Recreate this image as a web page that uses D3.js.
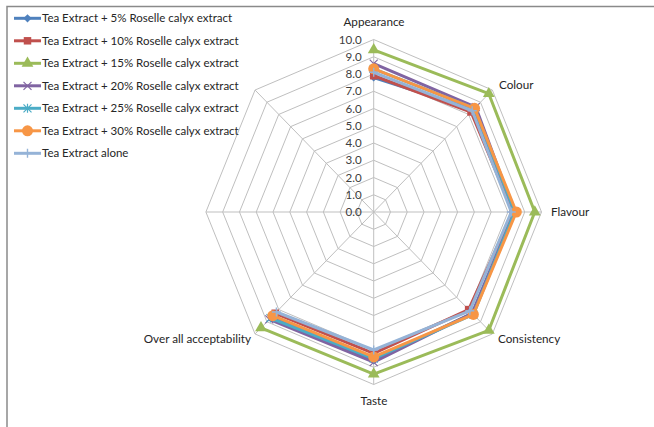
<!DOCTYPE html>
<html>
<head>
<meta charset="utf-8">
<script src="https://cdn.jsdelivr.net/npm/d3@7"></script>
<style>
  html, body { margin: 0; padding: 0; background: #fff; }
  svg { display: block; font-family: Lato, "Open Sans", sans-serif; }
</style>
</head>
<body>
<svg id="chart" width="654" height="427"></svg>
<script>
// Sensory attributes, clockwise from the top; the last two spokes carry no data
const categories = ["Appearance", "Colour", "Flavour", "Consistency", "Taste", "Over all acceptability", "", ""];

const seriesNames = [
  "Tea Extract + 5% Roselle calyx extract",
  "Tea Extract + 10% Roselle calyx extract",
  "Tea Extract + 15% Roselle calyx extract",
  "Tea Extract + 20% Roselle calyx extract",
  "Tea Extract + 25% Roselle calyx extract",
  "Tea Extract + 30% Roselle calyx extract",
  "Tea Extract alone"
];

// Mean scores per attribute (null = no value on that spoke)
const roselle5  = [7.8, 8.4, 8.4, 8.3, 8.6, 8.6, null, null];
const roselle10 = [7.9, 8.2, 8.3, 8.0, 8.2, 8.3, null, null];
const roselle15 = [9.4, 9.7, 9.6, 9.7, 9.4, 9.5, null, null];
const roselle20 = [8.6, 8.6, 8.4, 8.3, 8.7, 8.8, null, null];
const roselle25 = [8.3, 8.5, 8.4, 8.4, 8.5, 8.7, null, null];
const roselle30 = [8.3, 8.5, 8.5, 8.4, 8.4, 8.5, null, null];
const teaAlone  = [8.1, 8.3, 8.2, 8.1, 8.0, 8.2, null, null];

const tickValues = [0, 1, 2, 3, 4, 5, 6, 7, 8, 9, 10];
const tickLabels = ["0.0", "1.0", "2.0", "3.0", "4.0", "5.0", "6.0", "7.0", "8.0", "9.0", "10.0"];

const seriesValues = [roselle5, roselle10, roselle15, roselle20, roselle25, roselle30, teaAlone];
const colors = ["#4F81BD", "#C0504D", "#9BBB59", "#8064A2", "#4BACC6", "#F79646", "#95B3D7"];
const markers = ["diamond", "square", "triangle", "x", "asterisk", "circle", "plus"];

const svg = d3.select("#chart");
const cx = 373.7, cy = 212;

// Radial scales (plot area is slightly wider than tall)
const rX = d3.scaleLinear().domain([0, 10]).range([0, 167.8]);
const rY = d3.scaleLinear().domain([0, 10]).range([0, 172.5]);
const angle = d3.scalePoint().domain(d3.range(categories.length)).range([0, 2 * Math.PI * (categories.length - 1) / categories.length]);

const px = (i, v) => cx + rX(v) * Math.sin(angle(i));
const py = (i, v) => cy - rY(v) * Math.cos(angle(i));

// Chart frame
svg.append("path")
  .attr("d", "M7,427 V6.5 H654")
  .attr("fill", "none").attr("stroke", "#8a8a8a").attr("stroke-width", 1.5);

// Grid polygons
const grid = svg.append("g").attr("fill", "none").attr("stroke", "#BFBFBF").attr("stroke-width", 1);
tickValues.slice(1).forEach(t => {
  grid.append("polygon")
    .attr("points", categories.map((c, i) => [px(i, t), py(i, t)].join(",")).join(" "));
});
categories.forEach((c, i) => {
  grid.append("line")
    .attr("x1", cx).attr("y1", cy)
    .attr("x2", px(i, 10)).attr("y2", py(i, 10));
});

// Value axis labels along the top spoke
svg.append("g")
  .selectAll("text").data(tickValues).join("text")
  .attr("x", cx - 12)
  .attr("y", d => cy - rY(d))
  .attr("dy", "0.35em")
  .attr("text-anchor", "end")
  .attr("font-size", 11.6)
  .attr("fill", "#404040")
  .text((d, i) => tickLabels[i]);

// Category labels
const catPos = [
  { x: 374, y: 22, anchor: "middle" },
  { x: 499, y: 85, anchor: "start" },
  { x: 551, y: 212, anchor: "start" },
  { x: 498, y: 339, anchor: "start" },
  { x: 374, y: 401, anchor: "middle" },
  { x: 251, y: 339, anchor: "end" }
];
svg.append("g")
  .selectAll("text").data(categories.filter(c => c !== "")).join("text")
  .attr("x", (d, i) => catPos[i].x)
  .attr("y", (d, i) => catPos[i].y)
  .attr("dy", "0.35em")
  .attr("text-anchor", (d, i) => catPos[i].anchor)
  .attr("font-size", 11.7)
  .attr("fill", "#262626")
  .text(d => d);

// Marker shapes
function drawMarker(g, type, color) {
  if (type === "diamond") {
    g.append("path").attr("d", d3.symbol(d3.symbolSquare, 34)()).attr("transform", "rotate(45)").attr("fill", color);
  } else if (type === "square") {
    g.append("path").attr("d", d3.symbol(d3.symbolSquare, 56)()).attr("fill", color);
  } else if (type === "triangle") {
    g.append("path").attr("d", d3.symbol(d3.symbolTriangle, 60)()).attr("fill", color);
  } else if (type === "circle") {
    g.append("circle").attr("r", 5.5).attr("fill", color);
  } else if (type === "x") {
    g.append("path").attr("d", "M-4,-4L4,4M-4,4L4,-4").attr("stroke", color).attr("stroke-width", 1.2);
  } else if (type === "asterisk") {
    g.append("path").attr("d", "M-4,-4L4,4M-4,4L4,-4M0,-4.5V4.5").attr("stroke", color).attr("stroke-width", 1.2);
  } else if (type === "plus") {
    g.append("path").attr("d", "M-4.5,0H4.5M0,-4.5V4.5").attr("stroke", color).attr("stroke-width", 1.4);
  }
}

// Series lines and markers
const line = d3.line()
  .defined(d => d.v != null)
  .x(d => px(d.i, d.v))
  .y(d => py(d.i, d.v));

seriesValues.forEach((vals, s) => {
  const pts = vals.map((v, i) => ({ i, v }));
  const g = svg.append("g");
  g.append("path")
    .attr("d", line(pts))
    .attr("fill", "none")
    .attr("stroke", colors[s])
    .attr("stroke-width", 3)
    .attr("stroke-linejoin", "round");
  pts.filter(d => d.v != null).forEach(d => {
    drawMarker(g.append("g").attr("transform", `translate(${px(d.i, d.v)},${py(d.i, d.v)})`), markers[s], colors[s]);
  });
});

// Legend
const legend = svg.append("g");
seriesNames.forEach((name, s) => {
  const y = 18.3 + s * 22.5;
  const row = legend.append("g");
  row.append("line").attr("x1", 14).attr("x2", 41).attr("y1", y).attr("y2", y)
    .attr("stroke", colors[s]).attr("stroke-width", 3);
  drawMarker(row.append("g").attr("transform", `translate(27.5,${y})`), markers[s], colors[s]);
  row.append("text").attr("x", 42).attr("y", y).attr("dy", "0.35em")
    .attr("font-size", 11.5).attr("fill", "#262626").text(name);
});
</script>
</body>
</html>
